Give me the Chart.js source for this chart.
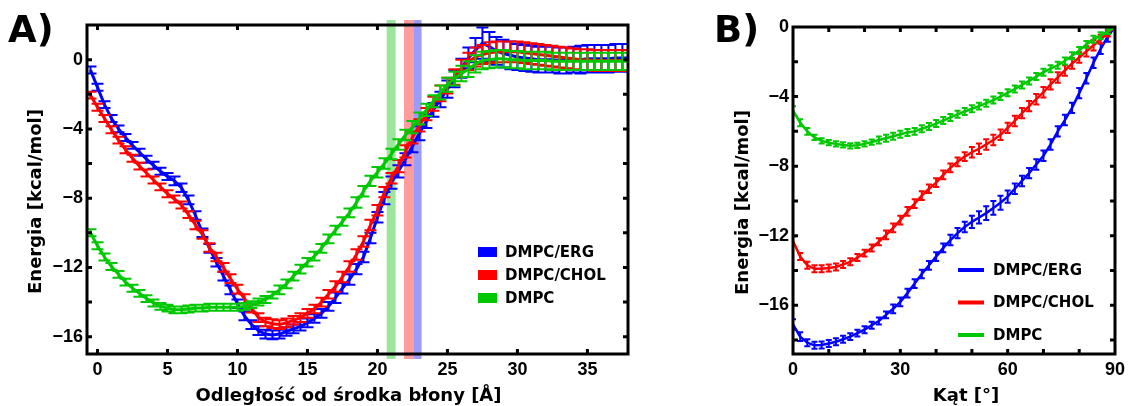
<!DOCTYPE html>
<html><head><meta charset="utf-8">
<script src="https://cdn.jsdelivr.net/npm/chart.js@4.4.1/dist/chart.umd.min.js"></script>
<style>
html,body{margin:0;padding:0;background:#fff;}
body{width:1130px;height:406px;position:relative;overflow:hidden;}
#ca{position:absolute;left:0;top:0;}
#cb{position:absolute;left:680px;top:0;}
</style></head>
<body>
<canvas id="ca" width="660" height="406" style="width:660px;height:406px"></canvas>
<canvas id="cb" width="450" height="406" style="width:450px;height:406px"></canvas>
<script>
// ---------- Panel A data ----------
const seriesNames = ['DMPC/ERG', 'DMPC/CHOL', 'DMPC'];
const seriesColors = ['#0000ff', '#ff0000', '#00c800'];
const distA = [-0.5,0,0.5,1,1.5,2,2.5,3,3.5,4,4.5,5,5.5,6,6.5,7,7.5,8,8.5,9,9.5,10,10.5,11,11.5,12,12.5,13,13.5,14,14.5,15,15.5,16,16.5,17,17.5,18,18.5,19,19.5,20,20.5,21,21.5,22,22.5,23,23.5,24,24.5,25,25.5,26,26.5,27,27.5,28,28.5,29,29.5,30,30.5,31,31.5,32,32.5,33,33.5,34,34.5,35,35.5,36,36.5,37,37.5,38];
const ergA = [-0.6,-1.6,-2.6,-3.4,-4.0,-4.5,-4.95,-5.35,-5.75,-6.1,
  -6.45,-6.75,-7.0,-7.4,-8.1,-9.0,-10.0,-10.9,-11.7,-12.5,
  -13.3,-14.1,-14.8,-15.3,-15.65,-15.85,-15.9,-15.85,-15.7,-15.55,
  -15.4,-15.2,-14.95,-14.65,-14.25,-13.75,-13.2,-12.7,-12.1,-11.4,
  -10.3,-9.1,-8.0,-7.1,-6.45,-5.75,-5.0,-4.25,-3.55,-2.9,
  -2.3,-1.7,-1.1,-0.5,0.1,0.55,0.95,0.75,0.5,0.35,
  0.25,0.15,0.1,0.05,0.0,0.0,0.0,-0.05,-0.05,0.0,
  0.0,0.05,0.05,0.05,0.05,0.1,0.1,0.1];
const cholA = [-2.05,-2.75,-3.4,-4.05,-4.65,-5.2,-5.7,-6.15,-6.55,-6.95,
  -7.35,-7.75,-8.05,-8.4,-8.95,-9.55,-10.1,-10.85,-11.4,-12.0,
  -12.65,-13.25,-13.8,-14.35,-14.9,-15.15,-15.25,-15.3,-15.2,-15.05,
  -14.9,-14.65,-14.4,-14.0,-13.55,-13.1,-12.55,-11.95,-11.25,-10.5,
  -9.55,-8.7,-7.65,-6.85,-6.15,-5.3,-4.5,-3.8,-3.15,-2.55,
  -1.95,-1.5,-1.0,-0.5,-0.1,0.15,0.3,0.4,0.45,0.45,
  0.45,0.45,0.4,0.35,0.3,0.25,0.2,0.15,0.1,0.05,
  0.0,0.0,-0.05,-0.05,-0.05,-0.05,-0.05,-0.05];
const dmpcA = [-10.0,-10.75,-11.4,-11.95,-12.4,-12.85,-13.2,-13.5,-13.8,-14.05,
  -14.25,-14.35,-14.45,-14.45,-14.4,-14.35,-14.35,-14.3,-14.3,-14.3,
  -14.3,-14.3,-14.25,-14.15,-14.0,-13.85,-13.6,-13.3,-12.95,-12.5,
  -12.1,-11.7,-11.35,-10.9,-10.35,-9.85,-9.35,-8.85,-8.25,-7.6,
  -7.0,-6.5,-6.0,-5.45,-4.9,-4.35,-3.9,-3.4,-2.9,-2.4,
  -1.9,-1.45,-1.1,-0.8,-0.55,-0.25,-0.05,0.0,0.05,0.05,
  0.0,0.0,-0.05,-0.05,-0.05,-0.05,-0.1,-0.1,-0.1,-0.1,
  -0.1,-0.1,-0.1,-0.1,-0.1,-0.1,-0.1,-0.1];
const ergErrA = [0.2,0.2,0.2,0.2,0.2,0.2,0.2,0.2,0.2,0.2,
  0.2,0.2,0.25,0.25,0.25,0.25,0.25,0.25,0.25,0.25,
  0.25,0.25,0.25,0.25,0.25,0.25,0.25,0.25,0.25,0.25,
  0.25,0.25,0.25,0.25,0.25,0.3,0.3,0.3,0.3,0.3,
  0.3,0.3,0.35,0.35,0.35,0.35,0.35,0.4,0.4,0.4,
  0.45,0.5,0.5,0.55,0.6,0.7,0.9,0.85,0.8,0.8,
  0.8,0.75,0.75,0.75,0.75,0.75,0.75,0.75,0.75,0.75,
  0.8,0.8,0.8,0.8,0.8,0.8,0.8,0.8];
const cholErrA = [0.2,0.2,0.2,0.2,0.2,0.2,0.2,0.2,0.2,0.2,
  0.2,0.2,0.2,0.2,0.2,0.25,0.25,0.25,0.25,0.25,
  0.25,0.25,0.25,0.25,0.25,0.25,0.25,0.25,0.25,0.25,
  0.25,0.25,0.25,0.25,0.25,0.3,0.3,0.3,0.3,0.3,
  0.3,0.3,0.3,0.3,0.35,0.35,0.35,0.35,0.35,0.4,
  0.45,0.45,0.45,0.5,0.5,0.55,0.55,0.6,0.6,0.6,
  0.6,0.6,0.6,0.6,0.6,0.6,0.6,0.6,0.6,0.6,
  0.6,0.6,0.6,0.6,0.6,0.6,0.6,0.6];
const dmpcErrA = [0.2,0.2,0.2,0.2,0.2,0.2,0.2,0.2,0.2,0.2,
  0.2,0.2,0.2,0.2,0.2,0.2,0.2,0.2,0.2,0.2,
  0.2,0.2,0.2,0.2,0.2,0.2,0.2,0.25,0.25,0.25,
  0.25,0.25,0.25,0.25,0.25,0.25,0.25,0.25,0.3,0.3,
  0.3,0.3,0.3,0.3,0.3,0.3,0.35,0.35,0.35,0.35,
  0.4,0.4,0.4,0.45,0.45,0.5,0.5,0.5,0.5,0.5,
  0.5,0.5,0.5,0.5,0.5,0.5,0.5,0.5,0.5,0.5,
  0.5,0.5,0.5,0.5,0.5,0.5,0.5,0.5];
// shaded bands (membrane boundary) in panel A: [from, to] in Angstrom, colours
const bandRanges = [[20.66, 21.3], [21.9, 22.56], [22.56, 23.15]];
const bandColors = ['#9ce69c', '#ff9c9c', '#9c9cff'];

// ---------- Panel B data ----------
const angleB = [0,2,4,6,8,10,12,14,16,18,20,22,24,26,28,30,32,34,36,38,40,42,44,46,48,50,52,54,56,58,60,62,64,66,68,70,72,74,76,78,80,82,84,86,88,90];
const ergB = [-17.1,-17.8,-18.15,-18.3,-18.28,-18.2,-18.1,-17.95,-17.8,-17.6,
  -17.4,-17.15,-16.9,-16.55,-16.2,-15.8,-15.3,-14.75,-14.2,-13.7,
  -13.2,-12.7,-12.25,-11.85,-11.5,-11.2,-10.95,-10.7,-10.4,-10.1,
  -9.75,-9.3,-8.85,-8.4,-7.9,-7.4,-6.75,-6.0,-5.35,-4.65,
  -3.8,-2.95,-2.05,-1.25,-0.55,0.0];
const cholB = [-12.3,-13.2,-13.7,-13.9,-13.9,-13.85,-13.8,-13.65,-13.5,-13.25,
  -13.0,-12.7,-12.35,-11.95,-11.55,-11.1,-10.6,-10.15,-9.7,-9.3,
  -8.95,-8.5,-8.1,-7.75,-7.45,-7.2,-7.0,-6.75,-6.5,-6.2,
  -5.8,-5.4,-4.95,-4.55,-4.15,-3.75,-3.3,-2.9,-2.5,-2.1,
  -1.75,-1.4,-1.05,-0.7,-0.35,0.0];
const dmpcB = [-4.8,-5.5,-6.0,-6.35,-6.55,-6.65,-6.72,-6.78,-6.83,-6.8,
  -6.72,-6.62,-6.5,-6.4,-6.28,-6.17,-6.07,-6.0,-5.85,-5.72,
  -5.55,-5.38,-5.2,-5.02,-4.86,-4.7,-4.55,-4.38,-4.2,-4.0,
  -3.78,-3.57,-3.33,-3.1,-2.85,-2.6,-2.4,-2.2,-1.95,-1.65,
  -1.35,-1.0,-0.7,-0.5,-0.25,0.0];
const ergErrB = [0.3,0.25,0.2,0.2,0.2,0.2,0.2,0.2,0.2,0.2,
  0.2,0.2,0.2,0.2,0.25,0.25,0.25,0.25,0.25,0.25,
  0.25,0.25,0.3,0.3,0.3,0.35,0.35,0.4,0.4,0.4,
  0.35,0.3,0.3,0.3,0.3,0.3,0.3,0.3,0.3,0.3,
  0.3,0.3,0.3,0.3,0.3,0.1];
const cholErrB = [0.25,0.2,0.2,0.2,0.2,0.2,0.2,0.2,0.2,0.2,
  0.2,0.2,0.2,0.25,0.25,0.25,0.25,0.25,0.25,0.25,
  0.25,0.25,0.25,0.25,0.25,0.3,0.3,0.3,0.3,0.3,
  0.3,0.3,0.3,0.3,0.3,0.3,0.3,0.3,0.3,0.3,
  0.3,0.3,0.3,0.25,0.2,0.1];
const dmpcErrB = [0.25,0.2,0.2,0.15,0.15,0.15,0.15,0.15,0.15,0.15,
  0.15,0.15,0.2,0.2,0.2,0.2,0.2,0.2,0.2,0.2,
  0.2,0.2,0.2,0.2,0.2,0.2,0.2,0.2,0.2,0.2,
  0.2,0.2,0.2,0.2,0.2,0.2,0.2,0.2,0.2,0.2,
  0.2,0.2,0.2,0.2,0.15,0.1];

// ---------- axis text ----------
const xTitleA = 'Odległość od środka błony [Å]';
const xTitleB = 'Kąt [°]';
const yTitle = 'Energia [kcal/mol]';

const TICKFONT = {family: "'Liberation Sans', Arial, sans-serif", size: 18, weight: 'bold'};
const TEXTFONT = "'DejaVu Sans', sans-serif";
Chart.defaults.color = '#000';

function fmtNum(v){ return v < 0 ? '\u2212' + Math.abs(v) : String(v); }
function pts(xs, ys){ return xs.map((x, i) => ({x: x, y: ys[i]})); }

// error bars, drawn right after each dataset so stacking order matches
const errPlugin = {
  id: 'errbars',
  afterDatasetDraw(chart, args, opts){
    const ds = chart.data.datasets[args.index];
    if (!ds.err) return;
    const {ctx, chartArea: a} = chart;
    const xs = chart.scales.x, ys = chart.scales.y;
    ctx.save();
    ctx.beginPath(); ctx.rect(a.left, a.top, a.right - a.left, a.bottom - a.top); ctx.clip();
    ctx.strokeStyle = ds.borderColor; ctx.lineWidth = opts.lw;
    const hw = opts.cap / 2;
    ctx.beginPath();
    ds.data.forEach((p, i) => {
      const e = ds.err[i];
      const px = xs.getPixelForValue(p.x);
      const y1 = ys.getPixelForValue(p.y + e), y2 = ys.getPixelForValue(p.y - e);
      ctx.moveTo(px, y1); ctx.lineTo(px, y2);
      ctx.moveTo(px - hw, y1); ctx.lineTo(px + hw, y1);
      ctx.moveTo(px - hw, y2); ctx.lineTo(px + hw, y2);
    });
    ctx.stroke();
    ctx.restore();
  }
};

// shaded vertical bands behind curves
const bandPlugin = {
  id: 'bands',
  beforeDatasetsDraw(chart, args, opts){
    if (!opts.ranges) return;
    const {ctx, chartArea: a} = chart; const xs = chart.scales.x;
    ctx.save();
    opts.ranges.forEach((r, i) => {
      const x1 = xs.getPixelForValue(r[0]), x2 = xs.getPixelForValue(r[1]);
      ctx.fillStyle = opts.colors[i];
      ctx.fillRect(x1, a.top - 5, x2 - x1, a.bottom - a.top + 10);
    });
    ctx.restore();
  }
};

// box frame with inward ticks on all four sides, titles, legend, panel letter
const decoPlugin = {
  id: 'deco',
  afterDraw(chart, args, o){
    const {ctx, chartArea: a} = chart;
    const xs = chart.scales.x, ys = chart.scales.y;
    ctx.save();
    ctx.strokeStyle = '#000'; ctx.lineWidth = 3;
    ctx.strokeRect(a.left, a.top, a.right - a.left, a.bottom - a.top);
    const tl = 5;
    ctx.lineWidth = 3;
    ctx.beginPath();
    xs.ticks.forEach(t => {
      const px = xs.getPixelForValue(t.value);
      if (px <= a.left + 2 || px >= a.right - 2) return;
      ctx.moveTo(px, a.bottom); ctx.lineTo(px, a.bottom - tl);
      ctx.moveTo(px, a.top); ctx.lineTo(px, a.top + tl);
    });
    ys.ticks.forEach(t => {
      const py = ys.getPixelForValue(t.value);
      if (py <= a.top + 2 || py >= a.bottom - 2) return;
      ctx.moveTo(a.left, py); ctx.lineTo(a.left + tl, py);
      ctx.moveTo(a.right, py); ctx.lineTo(a.right - tl, py);
    });
    ctx.stroke();

    // axis titles
    ctx.fillStyle = '#000';
    ctx.font = 'bold 18px ' + TEXTFONT;
    ctx.textAlign = 'center'; ctx.textBaseline = 'middle';
    const cx = (a.left + a.right) / 2, cy = (a.top + a.bottom) / 2;
    ctx.fillText(o.xTitle, cx + o.xTitleShift, 396);
    ctx.save();
    ctx.translate(o.yTitleX, cy + 12);
    ctx.rotate(-Math.PI / 2);
    ctx.fillText(o.yTitle, 0, 0);
    ctx.restore();

    // panel letter
    ctx.font = 'bold 37px ' + TEXTFONT;
    ctx.textAlign = 'left'; ctx.textBaseline = 'alphabetic';
    ctx.fillText(o.letter, o.letterX, 42);

    // legend
    ctx.font = 'bold 15px ' + TEXTFONT;
    ctx.textBaseline = 'middle';
    const lg = o.legend;
    chart.data.datasets.slice().sort((p, q) => p.legendIndex - q.legendIndex).forEach((ds, i) => {
      const yy = a.top + lg.top + i * lg.gap;
      const xx = a.left + lg.left;
      ctx.fillStyle = ds.borderColor;
      if (lg.box) ctx.fillRect(xx, yy - 5, 19, 10);
      else ctx.fillRect(xx, yy - 2, 26, 4);
      ctx.fillStyle = '#000';
      ctx.fillText(ds.label, xx + lg.textOff, yy + 1);
    });
    ctx.restore();
  }
};

function makeChart(id, xv, series, errs, cfg){
  const order = [2, 1, 0]; // green drawn on top
  const datasets = series.map((s, i) => ({
    label: seriesNames[i], data: pts(xv, s), err: errs[i], legendIndex: i,
    borderColor: seriesColors[i], backgroundColor: seriesColors[i],
    borderWidth: cfg.lw, pointRadius: 0, fill: false, tension: 0, order: order[i]
  }));
  return new Chart(document.getElementById(id), {
    type: 'line',
    data: {datasets},
    options: {
      responsive: false, animation: false, devicePixelRatio: 1,
      layout: {padding: {left: 0, right: cfg.padRight, top: cfg.padTop, bottom: 0}},
      plugins: {
        legend: {display: false}, tooltip: {enabled: false},
        errbars: {cap: cfg.cap, lw: 2},
        bands: cfg.bands || {},
        deco: cfg.deco
      },
      scales: {
        x: {
          type: 'linear', min: cfg.xmin, max: cfg.xmax,
          grid: {display: false, drawTicks: false}, border: {display: false},
          ticks: {stepSize: cfg.xstep, includeBounds: false, autoSkip: false, maxRotation: 0,
                  padding: 5, font: TICKFONT, color: '#000',
                  callback: v => (Math.abs(v % cfg.xlab) < 1e-9 ? fmtNum(v) : '')},
          afterFit: s => { s.height = 52; }
        },
        y: {
          type: 'linear', min: cfg.ymin, max: cfg.ymax,
          grid: {display: false, drawTicks: false}, border: {display: false},
          ticks: {stepSize: 2, includeBounds: false, autoSkip: false,
                  padding: 4, font: TICKFONT, color: '#000',
                  callback: v => (Math.abs(v % 4) < 1e-9 ? fmtNum(v) : '')},
          afterFit: s => { s.width = cfg.yWidth; }
        }
      }
    },
    plugins: [bandPlugin, errPlugin, decoPlugin]
  });
}

makeChart('ca', distA, [ergA, cholA, dmpcA], [ergErrA, cholErrA, dmpcErrA], {
  lw: 3, cap: 12, padRight: 32, padTop: 25, yWidth: 87,
  xmin: -0.75, xmax: 37.9, xstep: 5, xlab: 5, ymin: -17, ymax: 2,
  bands: {ranges: bandRanges, colors: bandColors},
  deco: {xTitle: xTitleA, xTitleShift: -9, yTitle: yTitle, yTitleX: 36, letter: 'A)', letterX: 8,
         legend: {box: true, left: 391, top: 227, gap: 23, textOff: 27}}
});

makeChart('cb', angleB, [ergB, cholB, dmpcB], [ergErrB, cholErrB, dmpcErrB], {
  lw: 2.5, cap: 6, padRight: 10, padTop: 27, yWidth: 113,
  xmin: 0, xmax: 90, xstep: 10, xlab: 30, ymin: -18.8, ymax: 0,
  deco: {xTitle: xTitleB, xTitleShift: 12, yTitle: yTitle, yTitleX: 63, letter: 'B)', letterX: 34,
         legend: {box: false, left: 165, top: 243, gap: 32.5, textOff: 35}}
});
</script>
</body></html>
